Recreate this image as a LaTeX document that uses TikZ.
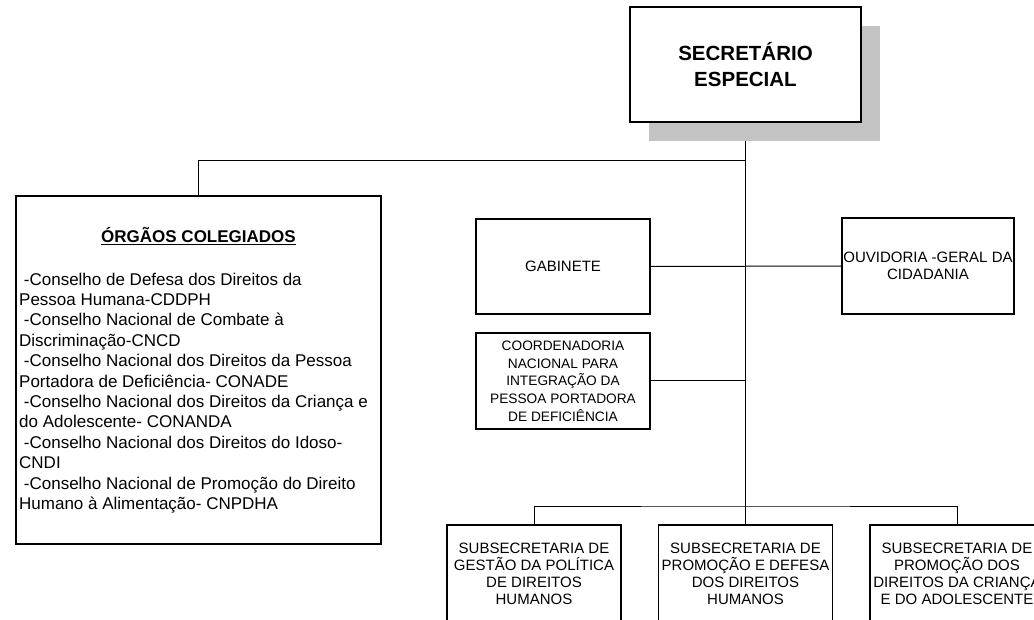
\documentclass[tikz,border=0pt]{standalone}
\usepackage{fontspec}
\setmainfont{Liberation Sans}
\usepackage{tikz}
\usetikzlibrary{shadows,backgrounds}
\definecolor{shadowgray}{RGB}{195,195,195}
\newcommand{\dashlead}{\hspace*{0.278em}}

\begin{document}
\begin{tikzpicture}[x=1pt,y=-1pt,line join=miter,
                    font=\fontsize{15}{17}\selectfont]
  \tikzstyle{unit}=[rectangle,draw=black,line width=1.3pt,fill=white,
                    align=center,inner sep=0pt,minimum width=174pt,minimum height=96pt]
  \tikzstyle{link}=[line width=1pt]

  \useasboundingbox (0,0) rectangle (1034,620);
  \clip (0,0) rectangle (1034,620);

  \node[unit,minimum width=231pt,minimum height=115pt,
        drop shadow={shadow xshift=19pt,shadow yshift=-19.5pt,fill=shadowgray,opacity=1},
        font=\fontsize{20.5}{26.5}\selectfont\bfseries] (sec) at (745.5,64.5) {SECRET\'ARIO\\ESPECIAL};

  \node[unit,minimum width=365pt,minimum height=348pt] (org) at (198.5,370) {};
  \node[anchor=base,inner sep=0pt,font=\fontsize{17}{20.4}\selectfont\bfseries]
       (orgtitle) at (198.5,243) {\underline{ÓRGÃOS COLEGIADOS}};
  % base of a multi-line node is its last line
  \node[anchor=base west,align=left,inner sep=0pt,font=\fontsize{17}{20.4}\selectfont]
       (orglist) at (19,509.4) {\dashlead-Conselho de Defesa dos Direitos da\\
                              Pessoa Humana-CDDPH\\
                              \dashlead-Conselho Nacional de Combate à\\
                              Discriminação-CNCD\\
                              \dashlead-Conselho Nacional dos Direitos da Pessoa\\
                              Portadora de Deficiência- CONADE\\
                              \dashlead-Conselho Nacional dos Direitos da Criança e\\
                              do Adolescente- CONANDA\\
                              \dashlead-Conselho Nacional dos Direitos do Idoso-\\
                              CNDI\\
                              \dashlead-Conselho Nacional de Promoção do Direito\\
                              Humano à Alimentação- CNPDHA};

  \node[unit,minimum height=95pt] (gab) at (563,266.5) {GABINETE};
  \node[unit,minimum width=172pt] (ouv) at (928,266) {OUVIDORIA -GERAL DA\\CIDADANIA};
  \node[unit,font=\fontsize{13.7}{17.7}\selectfont] (cord) at (563,381)
       {COORDENADORIA\\NACIONAL PARA\\INTEGRAÇÃO DA\\PESSOA PORTADORA\\DE DEFICIÊNCIA};

  \node[unit,minimum height=98pt] (sub1) at (534,574)
       {SUBSECRETARIA DE\\GESTÃO DA POLÍTICA\\DE DIREITOS\\HUMANOS};
  \node[unit,minimum height=98pt] (sub2) at (745.5,574)
       {SUBSECRETARIA DE\\PROMOÇÃO E DEFESA\\DOS DIREITOS\\HUMANOS};
  \node[unit,minimum height=98pt] (sub3) at (957,574)
       {SUBSECRETARIA DE\\PROMOÇÃO DOS\\DIREITOS DA CRIANÇA\\E DO ADOLESCENTE};

  % connectors behind the boxes and the shadow
  \begin{scope}[on background layer]
    \coordinate (hub) at (sec.south |- 0,161);
    \coordinate (bus) at (sec.south |- 0,506);
    \draw[link] (sec.south) -- (bus);
    \draw[link] (org.north) |- (hub);
    \draw[link] (gab.east) -- (ouv.west);
    \draw[link] (cord.east) -- (cord.east -| sec.south);
    \draw[link] (sub1.north) |- (bus) -| (sub3.north);
    \draw[link] (sub2.north) -- (bus);
  \end{scope}
\end{tikzpicture}
\end{document}
